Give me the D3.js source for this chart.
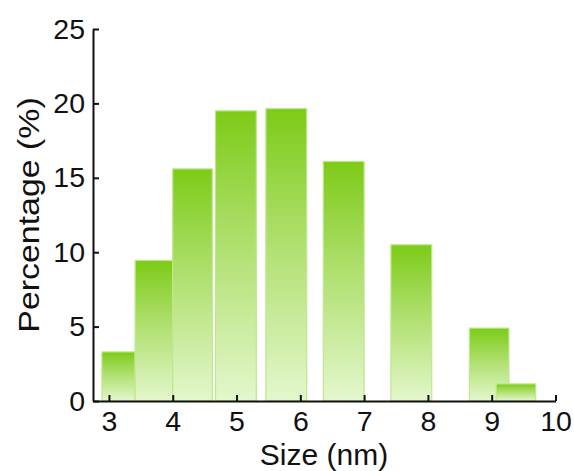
<!DOCTYPE html>
<html>
<head>
<meta charset="utf-8">
<script src="https://cdn.jsdelivr.net/npm/d3@7"></script>
<style>
  html, body { margin: 0; padding: 0; background: #fff; }
  svg { display: block; }
  text { font-family: "Liberation Sans", Arial, sans-serif; }
</style>
</head>
<body>
<svg id="chart" width="574" height="471"></svg>
<script>
// Histogram bins (nm) and percentages
const binStart = [2.89, 3.41, 4.00, 4.67, 5.46, 6.36, 7.42, 8.65, 9.07];
const binEnd   = [3.41, 4.00, 4.62, 5.31, 6.10, 7.00, 8.06, 9.27, 9.69];
const percent  = [3.3, 9.45, 15.6, 19.5, 19.65, 16.1, 10.5, 4.9, 1.15];
const xTicks = [3, 4, 5, 6, 7, 8, 9, 10];
const yTicks = [0, 5, 10, 15, 20, 25];
const xTitle = "Size (nm)";
const yTitle = "Percentage (%)";

const bars = binStart.map((s, i) => ({ s, e: binEnd[i], v: percent[i] }));

const svg = d3.select("#chart");
const x = d3.scaleLinear().domain([2.75, 10]).range([93, 555.5]);
const y = d3.scaleLinear().domain([0, 25]).range([401, 29]);

const defs = svg.append("defs");
const grad = defs.append("linearGradient")
  .attr("id", "barGrad").attr("x1", 0).attr("y1", 0).attr("x2", 0).attr("y2", 1);
grad.append("stop").attr("offset", "0%").attr("stop-color", "#7dcb18");
grad.append("stop").attr("offset", "40%").attr("stop-color", "#a9dd64");
grad.append("stop").attr("offset", "100%").attr("stop-color", "#e4f7cd");

svg.append("g").selectAll("rect").data(bars).join("rect")
  .attr("x", d => x(d.s))
  .attr("y", d => y(d.v))
  .attr("width", d => x(d.e) - x(d.s))
  .attr("height", d => y(0) - y(d.v))
  .attr("fill", "url(#barGrad)")
  .attr("stroke", "#bfe78e")
  .attr("stroke-width", 1.2);

const fs = "28.5px";

const xAxis = svg.append("g")
  .attr("transform", `translate(0,${y(0)})`)
  .call(d3.axisBottom(x).tickValues(xTicks).tickFormat(d3.format("d"))
        .tickSizeInner(-6).tickSizeOuter(0).tickPadding(10));

const yAxis = svg.append("g")
  .attr("transform", `translate(${x.range()[0]},0)`)
  .call(d3.axisLeft(y).tickValues(yTicks).tickFormat(d3.format("d"))
        .tickSizeInner(-6).tickSizeOuter(0).tickPadding(8));

[xAxis, yAxis].forEach(g => {
  g.select(".domain").attr("stroke", "#111").attr("stroke-width", 2);
  g.selectAll(".tick line").attr("stroke", "#111").attr("stroke-width", 2);
  g.selectAll(".tick text").attr("fill", "#111")
    .style("font-size", fs).style("font-family", '"Liberation Sans", Arial, sans-serif');
});

svg.append("text")
  .attr("x", 324)
  .attr("y", 465)
  .attr("text-anchor", "middle")
  .attr("fill", "#111")
  .style("font-size", "30px")
  .text(xTitle);

svg.append("text")
  .attr("transform", `translate(39,${(y(0) + y(25)) / 2}) rotate(-90) scale(1.13,1)`)
  .attr("text-anchor", "middle")
  .attr("fill", "#111")
  .style("font-size", "30px")
  .text(yTitle);
</script>
</body>
</html>
